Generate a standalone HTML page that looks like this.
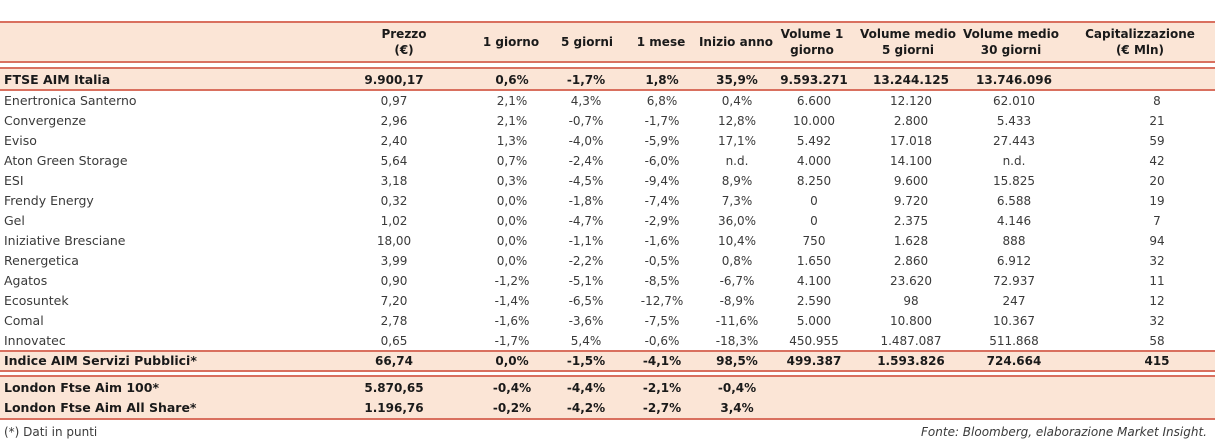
<!DOCTYPE html>
<html><head><meta charset="utf-8">
<style>
body{margin:0;width:1215px;height:443px;background:#fff;position:relative;overflow:hidden;font-family:"DejaVu Sans","Liberation Sans",sans-serif;}
.band{position:absolute;left:0;width:1215px;background:#fbe5d6;}
.ln{position:absolute;left:0;width:1215px;height:2px;background:#d9705f;}
.t{position:absolute;white-space:nowrap;font-size:12px;color:#3a3a3a;line-height:14px;transform:translate(-50%,-50%);}
.l{position:absolute;white-space:nowrap;font-size:12.5px;color:#3a3a3a;line-height:14px;transform:translateY(-50%);left:4px;}
.b{font-weight:bold;color:#1a1a1a;}
.h{font-weight:bold;color:#1a1a1a;text-align:center;font-size:12px;line-height:16px;}
</style></head><body>
<div class="band" style="top:22px;height:40px"></div>
<div class="ln" style="top:21px"></div>
<div class="ln" style="top:61px"></div>
<div class="band" style="top:69px;height:21px"></div>
<div class="ln" style="top:67px"></div>
<div class="ln" style="top:89px"></div>
<div class="band" style="top:351px;height:20px"></div>
<div class="ln" style="top:350px"></div>
<div class="ln" style="top:370px"></div>
<div class="band" style="top:377px;height:41px"></div>
<div class="ln" style="top:375px"></div>
<div class="ln" style="top:418px"></div>
<div class="l" style="top:432px;font-size:12px">(*) Dati in punti</div>
<div class="l" style="top:432px;left:auto;right:8px;font-size:12px;font-style:italic">Fonte: Bloomberg, elaborazione Market Insight.</div>
<script>
const headers=["Prezzo<br>(€)","1 giorno","5 giorni","1 mese","Inizio anno","Volume 1<br>giorno","Volume medio<br>5 giorni","Volume medio<br>30 giorni","Capitalizzazione<br>(€ Mln)"];
const labels=["FTSE AIM Italia","Enertronica Santerno","Convergenze","Eviso","Aton Green Storage","ESI","Frendy Energy","Gel","Iniziative Bresciane","Renergetica","Agatos","Ecosuntek","Comal","Innovatec","Indice AIM Servizi Pubblici*","London Ftse Aim 100*","London Ftse Aim All Share*"];
const prezzo=["9.900,17","0,97","2,96","2,40","5,64","3,18","0,32","1,02","18,00","3,99","0,90","7,20","2,78","0,65","66,74","5.870,65","1.196,76"];
const g1=["0,6%","2,1%","2,1%","1,3%","0,7%","0,3%","0,0%","0,0%","0,0%","0,0%","-1,2%","-1,4%","-1,6%","-1,7%","0,0%","-0,4%","-0,2%"];
const g5=["-1,7%","4,3%","-0,7%","-4,0%","-2,4%","-4,5%","-1,8%","-4,7%","-1,1%","-2,2%","-5,1%","-6,5%","-3,6%","5,4%","-1,5%","-4,4%","-4,2%"];
const m1=["1,8%","6,8%","-1,7%","-5,9%","-6,0%","-9,4%","-7,4%","-2,9%","-1,6%","-0,5%","-8,5%","-12,7%","-7,5%","-0,6%","-4,1%","-2,1%","-2,7%"];
const ytd=["35,9%","0,4%","12,8%","17,1%","n.d.","8,9%","7,3%","36,0%","10,4%","0,8%","-6,7%","-8,9%","-11,6%","-18,3%","98,5%","-0,4%","3,4%"];
const vol1=["9.593.271","6.600","10.000","5.492","4.000","8.250","0","0","750","1.650","4.100","2.590","5.000","450.955","499.387","",""];
const vol5=["13.244.125","12.120","2.800","17.018","14.100","9.600","9.720","2.375","1.628","2.860","23.620","98","10.800","1.487.087","1.593.826","",""];
const vol30=["13.746.096","62.010","5.433","27.443","n.d.","15.825","6.588","4.146","888","6.912","72.937","247","10.367","511.868","724.664","",""];
const cap=["","8","21","59","42","20","19","7","94","32","11","12","32","58","415","",""];
const cols=[prezzo,g1,g5,m1,ytd,vol1,vol5,vol30,cap];
const colX=[394,512,586,662,737,814,911,1014,1157];
const hdrX=[404,511,587,661,736,812,908,1011,1140];
const rowY=[80,101,121,141,161,181,201,221,241,261,281,301,321,341,361,388,408];
const boldRows=[0,14,15,16];
const colNames=["prezzo","1-giorno","5-giorni","1-mese","inizio-anno","volume-1-giorno","volume-medio-5","volume-medio-30","capitalizzazione"];
headers.forEach((h,i)=>{
  const d=document.createElement('div');
  d.className='t h';d.innerHTML=h;
  d.style.left=hdrX[i]+'px';d.style.top='42px';
  
  
  document.body.appendChild(d);
});
labels.forEach((lab,r)=>{
  const b=boldRows.includes(r);
  const d=document.createElement('div');
  d.className='l'+(b?' b':'');d.textContent=lab;d.style.top=rowY[r]+'px';
  
  
  document.body.appendChild(d);
  cols.forEach((c,ci)=>{
    if(!c[r])return;
    const e=document.createElement('div');
    e.className='t'+(b?' b':'');e.textContent=c[r];
    e.style.left=colX[ci]+'px';e.style.top=rowY[r]+'px';
    
    
    document.body.appendChild(e);
  });
});
</script>
</body></html>
